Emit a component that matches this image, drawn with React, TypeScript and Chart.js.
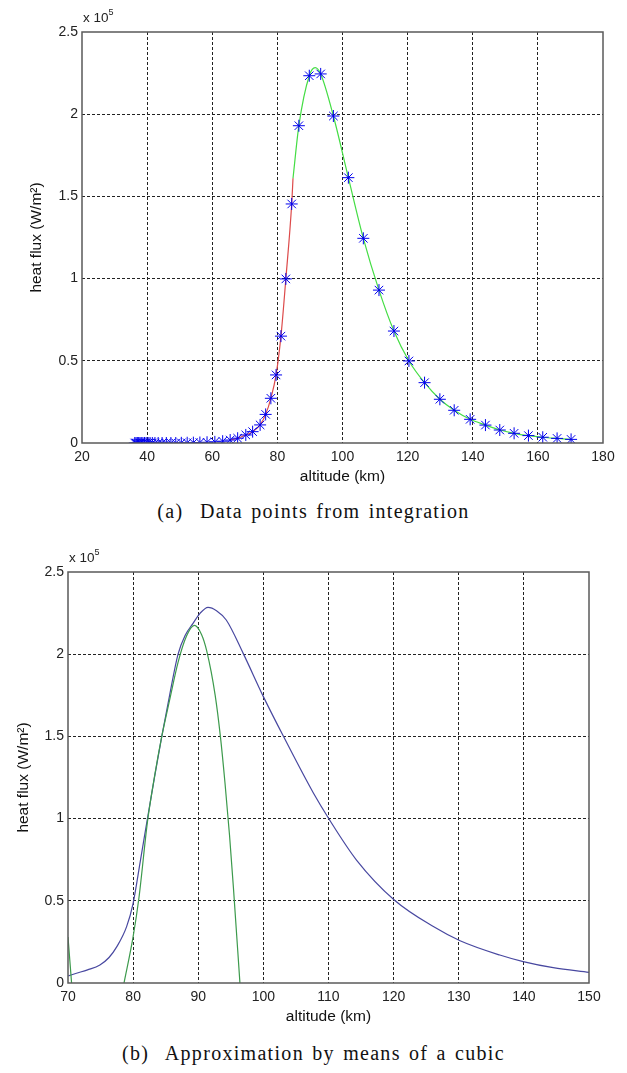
import React, { useEffect, useRef } from "react";
import { Chart, registerables } from "chart.js";

Chart.register(...registerables);

// ---------- (a) Data points from integration ----------
const starAlt = [
  36.2, 36.6, 37.0, 37.4, 37.8, 38.2, 38.7, 39.2, 39.7, 40.3, 40.9, 41.6, 42.4, 43.4,
  44.6, 45.9, 47.3, 48.8, 50.5, 52.3, 54.2, 56.2, 58.4, 60.8, 63.2, 65.5, 67.8, 70.3,
  72.4, 74.7, 76.4, 78.0, 79.6, 81.1, 82.6, 84.4, 86.6, 89.8, 93.3, 97.2, 101.8, 106.4,
  111.2, 115.8, 120.4, 125.2, 129.9, 134.3, 139.2, 143.9, 148.3, 152.7, 157.1, 161.5,
  165.9, 170.2,
];
const starFlux = [
  0, 0, 0, 0, 0, 0, 0, 0, 0, 0, 0, 0, 0, 0,
  0, 0, 0, 0, 100, 150, 200, 300, 450, 700, 1100, 1800, 2900, 4900,
  6900, 11000, 17400, 27200, 41400, 65000, 99800, 145400, 193000, 223400, 224500, 198900, 161400, 124500,
  93000, 68100, 49900, 36700, 26600, 19900, 14400, 10900, 7900, 5900, 4500, 3500,
  2800, 2200,
];

const redAlt = [65.5, 67.8, 70.3, 72.4, 74.7, 76.4, 78.0, 79.6, 81.1, 82.6, 84.4, 84.8];
const redFlux = [1800, 2900, 4900, 6900, 11000, 17400, 27200, 41400, 65000, 99800, 145400, 161000];

const greenAlt = [
  84.8, 86.6, 89.8, 91.6, 93.3, 97.2, 101.8, 106.4, 111.2, 115.8, 120.4, 125.2, 129.9,
  134.3, 139.2, 143.9, 148.3, 152.7, 157.1, 161.5, 165.9, 170.2,
];
const greenFlux = [
  161000, 193000, 223400, 228300, 224500, 198900, 161400, 124500, 93000, 68100, 49900, 36700, 26600,
  19900, 14400, 10900, 7900, 5900, 4500, 3500, 2800, 2200,
];

const topXTicks = [20, 40, 60, 80, 100, 120, 140, 160, 180];

// ---------- (b) Approximation by means of a cubic ----------
const blueAlt = [
  70.05, 71.3, 73.0, 74.9, 76.3, 77.5, 79.0, 80.0, 81.1, 82.2, 83.3, 84.4, 85.6, 86.9,
  88.0, 89.2, 90.3, 91.5, 92.8, 94.3, 96.9, 100.0, 103.1, 107.7, 110.1, 114.3, 120.1,
  126.1, 130.2, 136.3, 139.9, 144.5, 150,
];
const blueFlux = [
  4300, 5900, 8000, 11000, 15500, 22100, 34300, 48500, 74000, 100000, 125500, 150000, 175000, 200000,
  211500, 218800, 225000, 228500, 226500, 220800, 200500, 174200, 149900, 115400, 99600, 74800, 50500,
  34300, 25700, 17000, 13000, 9300, 6500,
];

const cubicAlt = [
  70.0, 70.55, 74.0, 78.6, 80.0, 80.9, 82.2, 83.3, 84.4, 85.6, 86.9, 88.2, 89.4, 90.5,
  91.3, 92.6, 93.4, 94.1, 94.8, 95.4, 96.4,
];
const cubicFlux = [
  28000, 0, null, 0, 28200, 52000, 98000, 126000, 150000, 172000, 195000, 211000, 217500, 212000,
  202000, 175000, 150000, 122000, 90000, 58000, 0,
];

const bottomXTicks = [70, 80, 90, 100, 110, 120, 130, 140, 150];
const yTicks = [0, 50000, 100000, 150000, 200000, 250000];
const yTickLabels = ["0", "0.5", "1", "1.5", "2", "2.5"];

const SANS = "'Liberation Sans', Arial, sans-serif";

const pts = (xs: number[], ys: (number | null)[]) => xs.map((x, i) => ({ x, y: ys[i] }));

const boxPlugin = {
  id: "box",
  afterDraw(chart: any) {
    const { ctx, chartArea } = chart;
    ctx.save();
    ctx.strokeStyle = "#5a5a5a";
    ctx.lineWidth = 1.5;
    ctx.strokeRect(chartArea.left, chartArea.top, chartArea.right - chartArea.left, chartArea.bottom - chartArea.top);
    ctx.restore();
  },
};

function makeOptions(xMin: number, xMax: number, xTicks: number[], yWidth: number, rightPad: number, yTitlePad: number) {
  return {
    responsive: false,
    animation: false as const,
    layout: { padding: { left: 0, top: 32, right: rightPad, bottom: 2 } },
    plugins: { legend: { display: false }, tooltip: { enabled: false } },
    scales: {
      x: {
        type: "linear" as const,
        min: xMin,
        max: xMax,
        afterFit: (s: any) => { s.height = 45; },
        afterBuildTicks: (s: any) => { s.ticks = xTicks.map((v) => ({ value: v })); },
        ticks: { color: "#222", font: { family: SANS, size: 14 }, padding: 6, maxRotation: 0, autoSkip: false },
        grid: {
          color: (c: any) => (c.tick && (c.tick.value === xMin || c.tick.value === xMax) ? "rgba(0,0,0,0)" : "#222"),
          lineWidth: 1,
          drawTicks: false,
        },
        border: { display: false, dash: [3, 2] },
        title: { display: true, text: "altitude (km)", color: "#111", font: { family: SANS, size: 15.5 }, padding: { top: 0, bottom: 2 } },
      },
      y: {
        type: "linear" as const,
        min: 0,
        max: 250000,
        afterFit: (s: any) => { s.width = yWidth; },
        afterBuildTicks: (s: any) => { s.ticks = yTicks.map((v) => ({ value: v })); },
        ticks: {
          color: "#222",
          font: { family: SANS, size: 14 },
          padding: 4,
          callback: (v: any) => yTickLabels[yTicks.indexOf(Number(v))] ?? "",
        },
        grid: {
          color: (c: any) => (c.tick && (c.tick.value === 0 || c.tick.value === 250000) ? "rgba(0,0,0,0)" : "#222"),
          lineWidth: 1,
          drawTicks: false,
        },
        border: { display: false, dash: [3, 2] },
        title: { display: true, text: "heat flux (W/m²)", color: "#111", font: { family: SANS, size: 15.5 }, padding: { top: yTitlePad, bottom: 0 } },
      },
    },
  };
}

function TopChart() {
  const ref = useRef<HTMLCanvasElement>(null);
  useEffect(() => {
    const opts: any = makeOptions(20, 180, topXTicks, 82, 24, 27);
    const chart = new Chart(ref.current!, {
      type: "line",
      data: {
        datasets: [
          {
            data: pts(starAlt, starFlux),
            showLine: false,
            pointStyle: "star",
            pointRadius: 6,
            pointBorderWidth: 1,
            pointBorderColor: "#0000ee",
            pointBackgroundColor: "#0000ee",
          },
          {
            data: pts(redAlt, redFlux),
            borderColor: "#dd4a4a",
            borderWidth: 1.2,
            pointRadius: 0,
            cubicInterpolationMode: "monotone",
          },
          {
            data: pts(greenAlt, greenFlux),
            borderColor: "#44dd44",
            borderWidth: 1.2,
            pointRadius: 0,
            cubicInterpolationMode: "monotone",
          },
        ],
      } as any,
      options: opts,
      plugins: [boxPlugin],
    });
    return () => chart.destroy();
  }, []);
  return <canvas ref={ref} width={627} height={490} style={{ position: "absolute", left: 0, top: 0 }} />;
}

function BottomChart() {
  const ref = useRef<HTMLCanvasElement>(null);
  useEffect(() => {
    const opts: any = makeOptions(70, 150, bottomXTicks, 68, 38, 14);
    const chart = new Chart(ref.current!, {
      type: "line",
      data: {
        datasets: [
          {
            data: pts(cubicAlt, cubicFlux),
            borderColor: "#3c9a4c",
            borderWidth: 1.2,
            pointRadius: 0,
            spanGaps: false,
            cubicInterpolationMode: "monotone",
          },
          {
            data: pts(blueAlt, blueFlux),
            borderColor: "#4848a0",
            borderWidth: 1.2,
            pointRadius: 0,
            cubicInterpolationMode: "monotone",
          },
        ],
      } as any,
      options: opts,
      plugins: [boxPlugin],
    });
    return () => chart.destroy();
  }, []);
  return <canvas ref={ref} width={627} height={490} style={{ position: "absolute", left: 0, top: 540 }} />;
}

const captionStyle: React.CSSProperties = {
  position: "absolute",
  left: 0,
  width: 627,
  textAlign: "center",
  fontFamily: "'Liberation Serif', 'Times New Roman', serif",
  fontSize: 20,
  letterSpacing: 1.3,
  wordSpacing: 2,
  color: "#111",
  whiteSpace: "nowrap",
};

const expStyle: React.CSSProperties = {
  position: "absolute",
  fontFamily: SANS,
  fontSize: 13.5,
  color: "#222",
  whiteSpace: "nowrap",
};

export default function App() {
  return (
    <div style={{ position: "absolute", left: 0, top: 0, width: 627, height: 1073, background: "#fff" }}>
      <TopChart />
      <BottomChart />
      <div style={{ ...expStyle, left: 83, top: 10 }}>
        x 10<sup style={{ fontSize: 9, verticalAlign: "top", position: "relative", top: -3 }}>5</sup>
      </div>
      <div style={{ ...expStyle, left: 69, top: 550 }}>
        x 10<sup style={{ fontSize: 9, verticalAlign: "top", position: "relative", top: -3 }}>5</sup>
      </div>
      <div style={{ ...captionStyle, top: 500 }}>(a)&nbsp; Data points from integration</div>
      <div style={{ ...captionStyle, top: 1042 }}>(b)&nbsp; Approximation by means of a cubic</div>
    </div>
  );
}
